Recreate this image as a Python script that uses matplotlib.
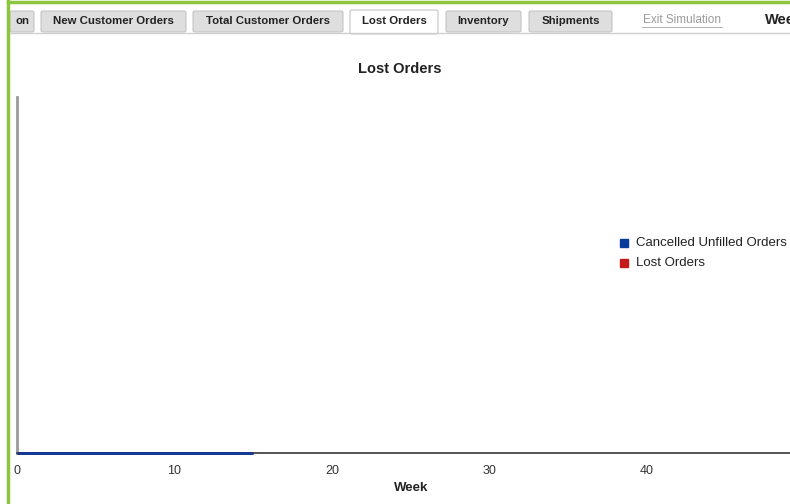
import matplotlib
matplotlib.use('Agg')
import matplotlib.pyplot as plt
from matplotlib.patches import Rectangle, FancyBboxPatch
from matplotlib.lines import Line2D

plt.rcParams['font.family'] = ['Liberation Sans', 'DejaVu Sans']

# data
weeks = list(range(0, 16))
cancelled_unfilled = [0] * 16
lost_orders = [0] * 16
x_ticks = [0, 10, 20, 30, 40]
series_names = ['Cancelled Unfilled Orders', 'Lost Orders']
series_colors = ['#0a3c9c', '#c41a1a']

tab_labels = ['on', 'New Customer Orders', 'Total Customer Orders', 'Lost Orders', 'Inventory', 'Shipments']
tab_left = [10, 41, 193, 350, 446, 529]
tab_right = [34, 186, 343, 438, 521, 612]
active_tab = 'Lost Orders'

W, H = 790, 504
fig = plt.figure(figsize=(W / 100, H / 100), dpi=100)

def fx(px):
    return px / W

def fy(py):
    return 1 - py / H

# green page border
fig.add_artist(Line2D([fx(8), fx(8)], [0, fy(1)], color='#8cc63e', lw=2.5, transform=fig.transFigure))
fig.add_artist(Line2D([fx(8), 1], [fy(1.5), fy(1.5)], color='#8cc63e', lw=2.5, transform=fig.transFigure))

# tab strip
fig.add_artist(Line2D([fx(10), 1], [fy(33), fy(33)], color='#cfcfcf', lw=1, transform=fig.transFigure))
for lab, l, r in zip(tab_labels, tab_left, tab_right):
    active = lab == active_tab
    top = 10 if active else 11
    bot = 34 if active else 32
    fc = 'white' if active else '#dedede'
    fig.add_artist(FancyBboxPatch((fx(l), fy(bot)), fx(r - l), fy(top) - fy(bot),
                                  boxstyle='round,pad=0,rounding_size=0.003',
                                  transform=fig.transFigure, fc=fc, ec='#c4c4c4', lw=0.8))
    cx = (l + r) / 2 if lab != 'on' else 22
    fig.text(fx(cx), fy(21.5), lab, ha='center', va='center', fontsize=8.2,
             fontweight='bold', color='#222222')

fig.text(fx(682), fy(20), 'Exit Simulation', ha='center', va='center', fontsize=8.5,
         color='#9a9a9a')
fig.add_artist(Line2D([fx(642), fx(722)], [fy(27), fy(27)], color='#b0b0b0', lw=0.7,
                      transform=fig.transFigure))
# header text is cut by the right edge in the reference too
fig.text(fx(765), fy(19.5), 'Week', ha='left', va='center', fontsize=10.5,
         fontweight='bold', color='#222222')

# chart area
x0, y_top, y_bot = 17, 97, 453
px_per_week = 15.75
xmax = 52
ax = fig.add_axes([fx(x0), fy(y_bot), fx(xmax * px_per_week), (y_bot - y_top) / H])
ax.patch.set_visible(False)
ax.plot(weeks, lost_orders, color=series_colors[1], lw=2.0, solid_capstyle='butt',
        clip_on=False, zorder=5)
ax.plot(weeks, cancelled_unfilled, color=series_colors[0], lw=2.0, solid_capstyle='butt',
        clip_on=False, zorder=6)
ax.set_xlim(0, xmax)
ax.set_ylim(0, 100)
ax.set_xticks(x_ticks)
ax.set_yticks([])
ax.tick_params(axis='x', length=0, pad=9, labelsize=9, labelcolor='#333333')
for s in ['top', 'right']:
    ax.spines[s].set_visible(False)
ax.spines['left'].set_color('#9a9a9a')
ax.spines['left'].set_linewidth(2)
ax.spines['bottom'].set_color('#444444')
ax.spines['bottom'].set_linewidth(1.3)

fig.text(fx(400), fy(69), 'Lost Orders', ha='center', va='center', fontsize=10.5,
         fontweight='bold', color='#222222')
fig.text(fx(411), fy(488), 'Week', ha='center', va='center', fontsize=9.5,
         fontweight='bold', color='#222222')

# legend
for i, (name, c) in enumerate(zip(series_names, series_colors)):
    yy = 243 + i * 19.5
    fig.add_artist(Rectangle((fx(620), fy(yy + 4)), fx(8), 8 / H, color=c,
                             transform=fig.transFigure, zorder=10))
    fig.text(fx(636), fy(yy), name, ha='left', va='center', fontsize=9.5, color='#222222')

fig.savefig('out.png', dpi=100)
